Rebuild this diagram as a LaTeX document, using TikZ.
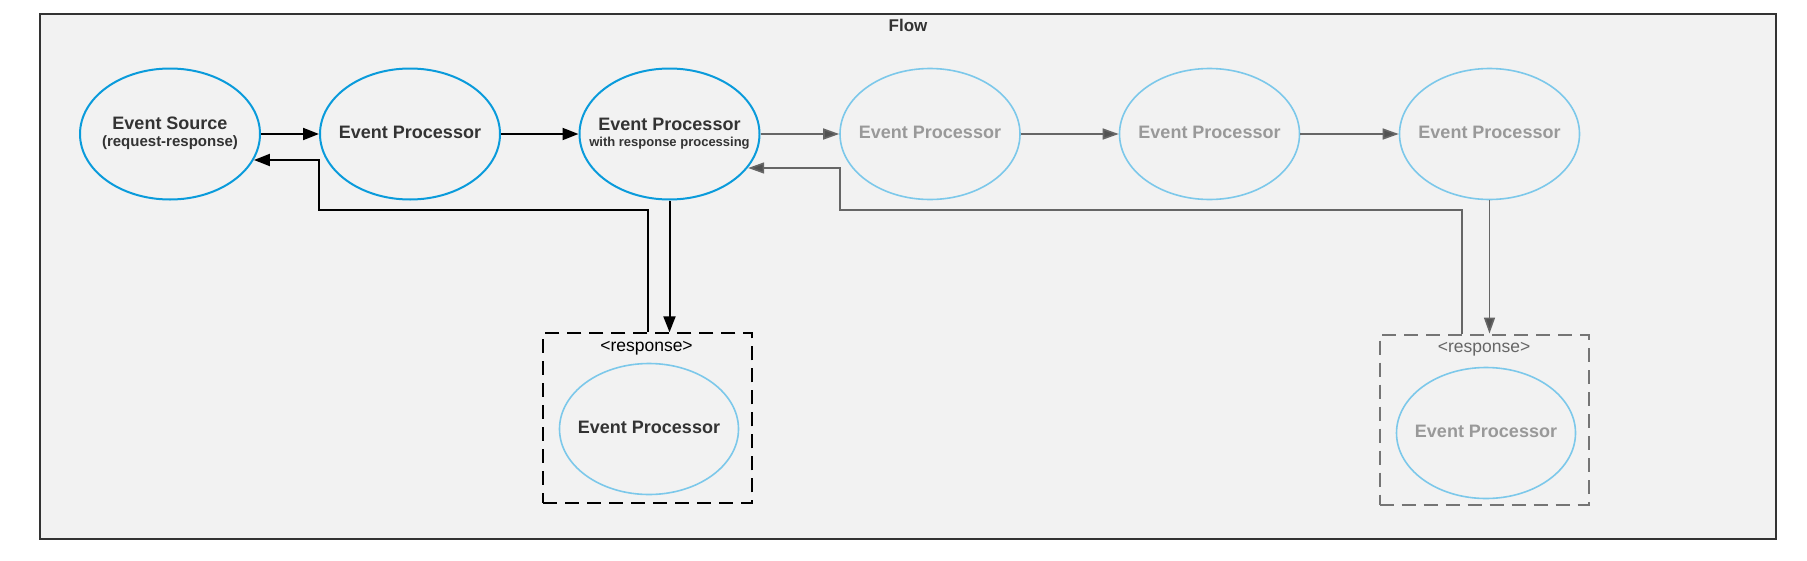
\documentclass[tikz,border=0pt]{standalone}
\usepackage{fontspec}
\setmainfont{Liberation Sans}
\usetikzlibrary{shapes.geometric,arrows.meta}
\definecolor{framebg}{HTML}{F2F2F2}
\definecolor{frameline}{HTML}{333333}
\definecolor{strongblue}{HTML}{0A9BDB}
\definecolor{lightblue}{HTML}{7CC8EA}
\definecolor{darktext}{HTML}{333333}
\definecolor{fadetext}{HTML}{999999}
\definecolor{grayline}{HTML}{666666}
\newcommand{\zw}[1]{\makebox[0pt]{\begin{tabular}{@{}c@{}}#1\end{tabular}}}
\tikzset{
  evstrong/.style={ellipse, draw=strongblue, line width=2pt, minimum width=180pt, minimum height=131pt, inner sep=0pt, text=darktext, font=\bfseries\fontsize{18}{20}\selectfont},
  evlight/.style={ellipse, draw=lightblue, line width=1.6pt, minimum width=180pt, minimum height=131pt, inner sep=0pt, text=fadetext, font=\bfseries\fontsize{18}{20}\selectfont},
  evinner/.style={ellipse, draw=lightblue, line width=1.6pt, minimum width=179pt, minimum height=131pt, inner sep=0pt, font=\bfseries\fontsize{18}{20}\selectfont},
  blackarrow/.style={draw=black, line width=2pt, -{Triangle[length=16pt,width=12pt]}},
  grayarrow/.style={draw=grayline, line width=1.6pt, -{Triangle[length=16pt,width=11pt,fill=grayline!80!black]}},
  respbox/.style={draw, dash pattern=on 14pt off 8pt, line width=2pt, minimum width=209pt, minimum height=170pt, inner sep=0pt},
  resplabel/.style={font=\fontsize{17.5}{19}\selectfont, inner sep=0pt}
}
\begin{document}
\begin{tikzpicture}[x=1pt,y=-1pt]
\useasboundingbox (0,0) rectangle (1807,560);
\node[draw=frameline, fill=framebg, line width=1.5pt, minimum width=1736pt, minimum height=525pt, inner sep=0pt] (frame) at (908,276.5) {};
\node[font=\bfseries\fontsize{17}{19}\selectfont, text=darktext, inner sep=0pt] (title) at (908,25) {Flow};

\node[evstrong] (e1) at (170,134) {\zw{Event Source\\[-3pt]{\fontsize{15}{17}\selectfont (request-response)}}};
\node[evstrong] (e2) at (410,134) {\zw{Event Processor}};
\node[evstrong] (e3) at (669.5,134) {\zw{Event Processor\\[-4pt]{\fontsize{13}{15}\selectfont with response processing}}};
\node[evlight] (e4) at (930,134) {\zw{Event Processor}};
\node[evlight] (e5) at (1209.5,134) {\zw{Event Processor}};
\node[evlight] (e6) at (1489.5,134) {\zw{Event Processor}};

\node[respbox, draw=black] (box1) at (647.75,418.3) {};
\node[resplabel, text=black] (lab1) at (646.5,348) {<response>};
\node[evinner, text=darktext] (r1) at (649,429) {\zw{Event Processor}};

\node[respbox, draw=grayline!90] (box2) at (1484,419.5) {};
\node[resplabel, text=grayline] (lab2) at (1484,349) {<response>};
\node[evinner, text=fadetext] (r2) at (1486,433) {\zw{Event Processor}};

\coordinate (c1a) at (319,210);
\coordinate (c1b) at (319,160);
\coordinate (c2s) at (1462,334);
\coordinate (c2a) at (840,210);
\coordinate (c2b) at (840,168);

\draw[blackarrow] (e1) -- (e2);
\draw[blackarrow] (e2) -- (e3);
\draw[grayarrow] (e3) -- (e4);
\draw[grayarrow] (e4) -- (e5);
\draw[grayarrow] (e5) -- (e6);

\draw[blackarrow] (e3.south) -- (e3.south |- box1.north);
\draw[blackarrow] (box1.north) |- (c1a) -- (c1b) -- (e1.-17.4 |- c1b);

\draw[grayarrow] (e6.south) -- (e6.south |- box2.north);
\draw[grayarrow] (c2s) |- (c2a) -- (c2b) -- (e3.-23.7 |- c2b);
\end{tikzpicture}
\end{document}
